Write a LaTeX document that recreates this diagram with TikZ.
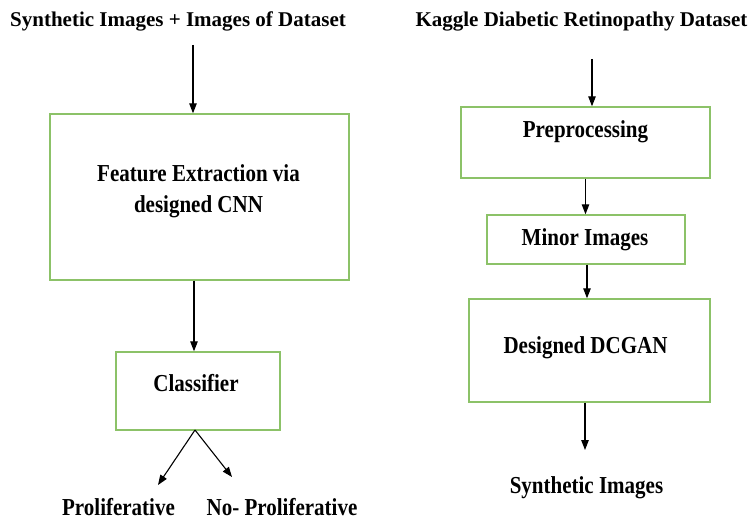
\documentclass[tikz,border=0pt]{standalone}
\usepackage{fontspec}
\usepackage{graphicx}
\setmainfont{Liberation Serif}
\usetikzlibrary{arrows.meta}
\definecolor{boxgreen}{RGB}{140,194,104}
\newcommand{\tallbf}[1]{\scalebox{1}[1.16]{#1}}
\begin{document}
\begin{tikzpicture}[x=1pt,y=-1pt,
  box/.style={draw=boxgreen, line width=1.4pt, inner sep=0pt},
  txt/.style={font=\fontsize{21}{25}\selectfont\bfseries, inner sep=0pt, anchor=base},
  arr/.style={draw=black, line width=1.1pt, -{Triangle[length=10pt,width=7.5pt]}}]
\useasboundingbox (0,0) rectangle (751,521);
% titles
\node[txt] (t1) at (178,27) {Synthetic Images + Images of Dataset};
\node[txt] (t2) at (581.5,27) {Kaggle Diabetic Retinopathy Dataset};
% left boxes
\node[box, minimum width=299pt, minimum height=166pt] (fe) at (199.5,197) {};
\node[txt] (fe1) at (198.5,182) {\tallbf{Feature Extraction via}};
\node[txt] (fe2) at (198.5,213) {\tallbf{designed CNN}};
\node[box, minimum width=164pt, minimum height=78pt] (cl) at (198,391) {};
\node[txt] (clt) at (196,391) {\tallbf{Classifier}};
\node[txt] (p1) at (118.5,515) {\tallbf{Proliferative}};
\node[txt] (p2) at (282,515) {\tallbf{No- Proliferative}};
% right boxes
\node[box, minimum width=249pt, minimum height=71pt] (pre) at (585.5,142.5) {};
\node[txt] (pret) at (585.5,138) {\tallbf{Preprocessing}};
\node[box, minimum width=198pt, minimum height=49pt] (mi) at (586,239.5) {};
\node[txt] (mit) at (585,245) {\tallbf{Minor Images}};
\node[box, minimum width=241pt, minimum height=103pt] (dc) at (589.5,350.5) {};
\node[txt] (dct) at (585.5,353) {\tallbf{Designed DCGAN}};
\node[txt] (si) at (586.5,493) {\tallbf{Synthetic Images}};
% coordinates
\coordinate (a1s) at (193,45);
\coordinate (a2x) at (194,0);
\coordinate (br) at (195,430);
\coordinate (lt) at (158,485);
\coordinate (rt) at (232,477);
\coordinate (b1s) at (592,59);
\coordinate (b2x) at (585.5,0);
\coordinate (b3x) at (587,0);
\coordinate (b4e) at (585,450);
% arrows
\draw[arr] (a1s) -- (a1s |- fe.north);
\draw[arr] (fe.south -| a2x) -- (cl.north -| a2x);
\draw[arr] (br) -- (lt);
\draw[arr] (br) -- (rt);
\draw[arr] (b1s) -- (b1s |- pre.north);
\draw[arr] (pre.south -| b2x) -- (mi.north -| b2x);
\draw[arr] (mi.south -| b3x) -- (dc.north -| b3x);
\draw[arr] (dc.south -| b4e) -- (b4e);
\end{tikzpicture}
\end{document}
